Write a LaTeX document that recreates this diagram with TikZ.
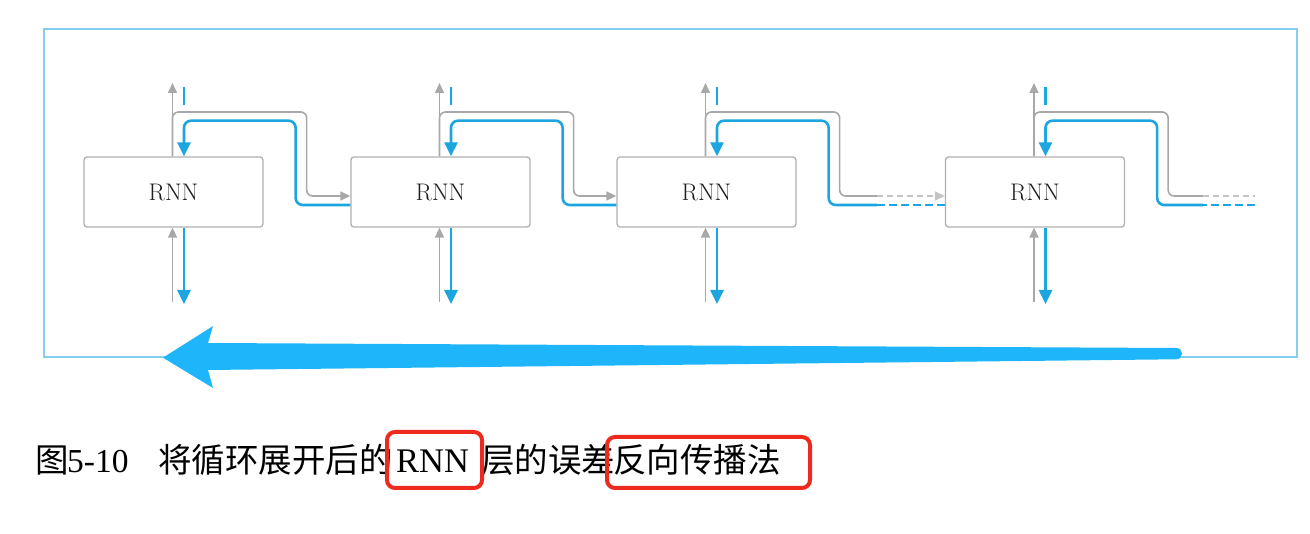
\documentclass[tikz,border=0pt]{standalone}
\usepackage{fontspec}
\usetikzlibrary{arrows.meta,calc}
\newfontfamily\cjk{Noto Sans CJK SC}
\newfontfamily\tnr{Liberation Serif}
\definecolor{lgray}{HTML}{A8A8A8}
\definecolor{dgray}{HTML}{C4C4C4}
\definecolor{boxgray}{HTML}{B0B0B0}
\definecolor{textgray}{HTML}{1E1E1E}
\definecolor{lblue}{HTML}{1CA5DE}
\definecolor{bigblue}{HTML}{1FB5FA}
\definecolor{framec}{HTML}{86CEEE}
\definecolor{redc}{HTML}{EE2A1F}
\tikzset{
 rnnbox/.style={draw=boxgray, line width=1.3pt, rounded corners=3pt, minimum width=179pt, minimum height=70pt, inner sep=0pt, text=textgray, font=\fontsize{24}{28}\selectfont},
 gline/.style={draw=lgray, line width=1.6pt},
 bline/.style={draw=lblue, line width=2.6pt},
 gtip/.style={-{Triangle[length=10pt,width=9pt]}},
 btip/.style={-{Triangle[length=14pt,width=13pt]}},
 gdash/.style={draw=dgray, line width=1.6pt, dash pattern=on 6pt off 4pt},
 bdash/.style={draw=lblue, line width=2.6pt, dash pattern=on 8pt off 4pt},
 captext/.style={anchor=base west, inner sep=0pt, text=black, font=\fontsize{33.5}{40}\selectfont},
 redbox/.style={draw=redc, line width=4pt, rounded corners=8pt}
}
\begin{document}
\begin{tikzpicture}[x=1pt,y=-1pt]
\useasboundingbox (0,0) rectangle (1310,534);
% frame
\draw[framec, line width=1.7pt] (44.3,29.3) rectangle (1296.7,357.3);
% boxes
\node[rnnbox] (r1) at (173.5,192) {RNN};
\node[rnnbox] (r2) at (440.5,192) {RNN};
\node[rnnbox] (r3) at (706.5,192) {RNN};
\node[rnnbox] (r4) at (1035,192) {RNN};
\foreach \i in {1,...,4} {
 \coordinate (gt\i) at ($(r\i.north)+(-1,0)$);
 \coordinate (bt\i) at ($(r\i.north)+(10.5,0)$);
 \coordinate (gb\i) at ($(r\i.south)+(-1,0)$);
 \coordinate (bb\i) at ($(r\i.south)+(10.5,0)$);
 \coordinate (gr\i) at ($(r\i.east)+(43,0)$);
 \coordinate (br\i) at ($(r\i.east)+(32,0)$);
 \draw[gline,gtip] (gt\i) -- (gt\i |- 0,83);
 \draw[bline] (bt\i |- 0,87) -- (bt\i |- 0,105);
 \draw[gline,gtip] (gb\i |- 0,302) -- (gb\i);
 \draw[bline,btip] (bb\i) -- (bb\i |- 0,304);
}
\foreach \i/\j in {1/2,2/3} {
 \draw[gline,gtip,rounded corners=6pt] (gt\i) |- (gr\i |- 0,112) |- (r\j.west |- 0,196);
 \draw[bline,btip,rounded corners=7pt] (r\j.west |- 0,205) -| (br\i |- 0,120.7) -| (bt\i);
}
% 3 -> 4 with dashed parts
\coordinate (gm3) at (877,196);
\coordinate (bm3) at (877,205);
\draw[gline,rounded corners=6pt] (gt3) |- (gr3 |- 0,112) |- (gm3);
\draw[gdash,gtip] (gm3) -- (r4.west |- gm3);
\draw[bdash] (r4.west |- bm3) -- (bm3);
\draw[bline,btip,rounded corners=7pt] (bm3) -| (br3 |- 0,120.7) -| (bt3);
% after box 4
\coordinate (gm4) at (1203,196);
\coordinate (ge4) at (1255,196);
\coordinate (bm4) at (1203,205);
\coordinate (be4) at (1255,205);
\draw[gline,rounded corners=6pt] (gt4) |- (gr4 |- 0,112) |- (gm4);
\draw[gdash] (gm4) -- (ge4);
\draw[bdash] (be4) -- (bm4);
\draw[bline,btip,rounded corners=7pt] (bm4) -| (br4 |- 0,120.7) -| (bt4);
% big arrow
\fill[bigblue] (1176,348) -- (208,343) -- (213,326) -- (163,357.7) -- (213,388) -- (208,370) -- (1176,359.3)
  .. controls (1184,359.3) and (1184,348) .. (1176,348) -- cycle;
% caption
\node[captext] (c1) at (35,473) {\cjk 图};
\node[captext] (c2) at (67,473) {\tnr 5-10};
\node[captext] (c3) at (158,473) {\cjk 将循环展开后的};
\node[captext, font=\fontsize{34.5}{40}\selectfont] (c4) at (396,473) {\tnr RNN};
\node[captext] (c5) at (481,473) {\cjk 层的误差};
\node[captext] (c6) at (613,473) {\cjk 反向传播法};
\draw[redbox] (387,432) rectangle (482,488);
\draw[redbox] (607,437) rectangle (810,488);
\end{tikzpicture}
\end{document}
